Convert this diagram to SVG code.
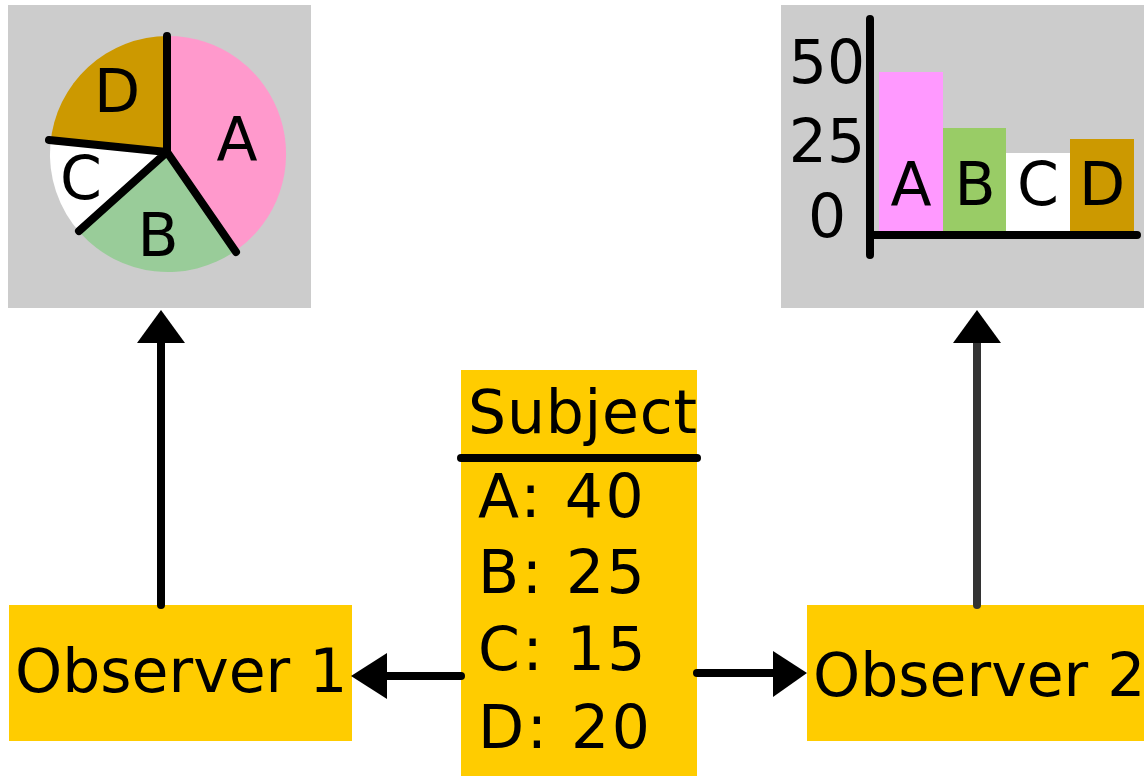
<svg xmlns="http://www.w3.org/2000/svg" width="1144" height="776" viewBox="0 0 1144 776">
<style>
text{font-family:"DejaVu Sans","Liberation Sans",sans-serif;font-size:60px;fill:#000}
.box{fill:#ffcc00}
.panel{fill:#cccccc}
.sep{stroke:#000;stroke-width:8;stroke-linecap:round;fill:none}
.conn{stroke:#000;stroke-width:8;stroke-linecap:round;fill:none}
.mid{text-anchor:middle}
.val{letter-spacing:2.5px}
</style>
<g id="pie-chart">
<rect class="panel" x="8" y="5" width="303" height="303"/>
<path d="M168,154 L168,36 A118,118 0 0 1 235.7,250.7 Z" fill="#ff99cc"/>
<path d="M168,154 L235.7,250.7 A118,118 0 0 1 80.3,233 Z" fill="#99cc99"/>
<path d="M168,154 L80.3,233 A118,118 0 0 1 50.4,143.7 Z" fill="#ffffff"/>
<path d="M168,154 L50.4,143.7 A118,118 0 0 1 168,36 Z" fill="#cc9900"/>
<path class="sep" d="M167,36 L167,152 M167,152 L236,252 M167,152 L79,231 M167,152 L49,140"/>
<text x="237" y="160" class="mid">A</text>
<text x="158" y="256" class="mid">B</text>
<text x="81" y="199" class="mid">C</text>
<text x="117" y="112" class="mid">D</text>
</g>
<g id="bar-chart">
<rect class="panel" x="781" y="5" width="363" height="303"/>
<rect x="879" y="72" width="64" height="163" fill="#ff99ff"/>
<rect x="943" y="128" width="63" height="107" fill="#99cc66"/>
<rect x="1006" y="153" width="64" height="82" fill="#ffffff"/>
<rect x="1070" y="139" width="64" height="96" fill="#cc9900"/>
<path class="sep" d="M870,19 L870,255 M870,235 L1137,235"/>
<text x="827" y="83" class="mid">50</text>
<text x="827" y="162" class="mid">25</text>
<text x="827" y="237" class="mid">0</text>
<text x="911" y="205" class="mid">A</text>
<text x="975" y="205" class="mid">B</text>
<text x="1038" y="205" class="mid">C</text>
<text x="1102" y="205" class="mid">D</text>
</g>
<g id="subject">
<rect class="box" x="461" y="370" width="236" height="406"/>
<text x="468" y="433" style="letter-spacing:0.8px">Subject</text>
<path class="sep" d="M461,458 L697,458"/>
<text x="478" y="517" class="val">A: 40</text>
<text x="478" y="593" class="val">B: 25</text>
<text x="478" y="670" class="val">C: 15</text>
<text x="478" y="748" class="val">D: 20</text>
</g>
<g id="observer1">
<rect class="box" x="9" y="605" width="343" height="136"/>
<text x="15" y="692">Observer 1</text>
</g>
<g id="observer2">
<rect class="box" x="807" y="605" width="337" height="136"/>
<text x="813" y="696">Observer 2</text>
</g>
<g id="connectors">
<path class="conn" d="M161,605 L161,338"/>
<path d="M137,343 L161,310 L185,343 Z" fill="#000"/>
<path class="conn" d="M977,605 L977,338" style="stroke:#333333"/>
<path d="M953,343 L977,310 L1001,343 Z" fill="#000"/>
<path class="conn" d="M461,676 L382,676"/>
<path d="M387,653 L351,676 L387,699 Z" fill="#000"/>
<path class="conn" d="M697,673 L777,673"/>
<path d="M773,651 L807,673 L773,697 Z" fill="#000"/>
</g>
</svg>
